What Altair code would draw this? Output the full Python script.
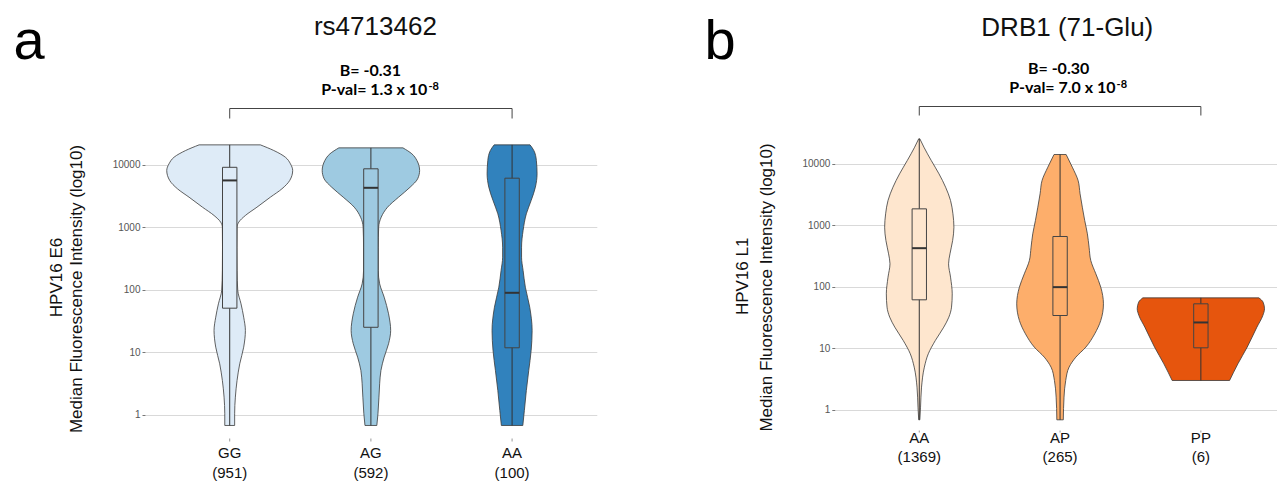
import altair as alt
import pandas as pd

# ---------------- Panel a : rs4713462 / HPV16 E6 ----------------
A_GROUPS = ["GG", "AG", "AA"]
A_COUNTS = ["(951)", "(592)", "(100)"]
A_COLORS = ["#deebf7", "#9ecae1", "#3182bd"]
A_TITLE = "rs4713462"
A_LETTER = "a"
A_YTITLE = ["HPV16 E6", "Median Fluorescence Intensity (log10)"]
A_BETA = "B= -0.31"
A_PVAL = "P-val= 1.3 x 10"
A_PEXP = "-8"

# violin outlines: log10(MFI) and half-width (in category units)
A_GG_LOG = [4.319, 4.229, 4.122, 4.016, 3.909, 3.749, 3.616, 3.482, 3.322, 3.189, 3.082, 3.002,
            2.682, 2.309, 1.989, 1.776, 1.562, 1.349, 1.082, 0.816, 0.549, 0.282, 0.016, -0.171]
A_GG_HW = [0.217, 0.312, 0.394, 0.430, 0.446, 0.425, 0.370, 0.288, 0.193, 0.111, 0.064, 0.052,
           0.051, 0.052, 0.057, 0.080, 0.099, 0.111, 0.099, 0.071, 0.052, 0.040, 0.035, 0.035]
A_AG_LOG = [4.271, 4.176, 4.069, 3.909, 3.775, 3.642, 3.482, 3.322, 3.162, 3.002, 2.682, 2.309,
            2.096, 1.882, 1.616, 1.349, 1.136, 0.922, 0.709, 0.496, 0.282, 0.016, -0.171]
A_AG_HW = [0.227, 0.290, 0.326, 0.345, 0.331, 0.278, 0.196, 0.118, 0.073, 0.055, 0.052, 0.052,
           0.062, 0.094, 0.125, 0.140, 0.125, 0.094, 0.071, 0.062, 0.057, 0.050, 0.042]
A_AA_LOG = [4.319, 4.229, 4.069, 3.855, 3.642, 3.429, 3.216, 2.949, 2.682, 2.522, 2.309, 2.042,
            1.722, 1.349, 1.029, 0.709, 0.389, 0.069, -0.171]
A_AA_HW = [0.127, 0.154, 0.172, 0.177, 0.165, 0.135, 0.101, 0.078, 0.067, 0.067, 0.078, 0.094,
           0.125, 0.142, 0.135, 0.118, 0.101, 0.087, 0.076]
# box plot statistics (log10 MFI)
A_Q1 = [1.706, 1.400, 1.072]
A_MED = [3.750, 3.632, 1.952]
A_Q3 = [3.960, 3.936, 3.786]
A_MIN = [-0.171, -0.171, -0.171]
A_MAX = [4.319, 4.271, 4.319]
A_BRACKET = [1, 3]

# ---------------- Panel b : DRB1 (71-Glu) / HPV16 L1 ----------------
B_GROUPS = ["AA", "AP", "PP"]
B_COUNTS = ["(1369)", "(265)", "(6)"]
B_COLORS = ["#fee6ce", "#fdae6b", "#e6550d"]
B_TITLE = "DRB1 (71-Glu)"
B_LETTER = "b"
B_YTITLE = ["HPV16 L1", "Median Fluorescence Intensity (log10)"]
B_BETA = "B= -0.30"
B_PVAL = "P-val= 7.0 x 10"
B_PEXP = "-8"

B_AA_LOG = [4.406, 4.270, 4.054, 3.837, 3.620, 3.404, 3.187, 2.970, 2.754, 2.537, 2.375, 2.158,
            1.887, 1.671, 1.508, 1.346, 1.129, 0.913, 0.696, 0.371, 0.046, -0.160]
B_AA_HW = [0.004, 0.033, 0.085, 0.140, 0.187, 0.222, 0.239, 0.246, 0.237, 0.218, 0.208, 0.222,
           0.234, 0.229, 0.210, 0.174, 0.114, 0.064, 0.036, 0.016, 0.009, 0.004]
B_AP_LOG = [4.151, 3.945, 3.729, 3.512, 3.295, 3.079, 2.862, 2.646, 2.429, 2.212, 1.996, 1.725,
            1.454, 1.237, 1.021, 0.858, 0.696, 0.479, 0.208, -0.160]
B_AP_HW = [0.043, 0.087, 0.128, 0.142, 0.158, 0.175, 0.194, 0.206, 0.218, 0.254, 0.289, 0.308,
           0.289, 0.246, 0.183, 0.112, 0.064, 0.040, 0.028, 0.023]
B_PP_LOG = [1.822, 1.752, 1.644, 1.535, 1.346, 1.021, 0.750, 0.479]
B_PP_HW = [0.412, 0.442, 0.452, 0.440, 0.398, 0.329, 0.263, 0.204]
B_Q1 = [1.790, 1.535, 1.010]
B_MED = [2.629, 1.996, 1.422]
B_Q3 = [3.268, 2.819, 1.725]
B_MIN = [-0.160, -0.160, 0.479]
B_MAX = [4.406, 4.151, 1.822]
B_BRACKET = [1, 3]

TICK_VALUES = [0, 1, 2, 3, 4]

BASE_FONT = "Liberation Sans"
ANNOT_FONT = "Lato"
BOX_HALF = 0.051


def one(text):
    return alt.Chart(pd.DataFrame({"t": [text]}))


def build_panel(pid, groups, counts, colors, logs, hws, q1, med, q3, wmin, wmax, bracket,
                title, letter, ytitle, beta, pval, pexp, L):
    keys = [f"{pid}_{g}" for g in groups]
    rows = []
    for i, k in enumerate(keys):
        for lv, hw in zip(logs[i], hws[i]):
            rows.append({"key": k, "cat": i + 1, "logv": lv, "hw": hw})
    vdf = pd.DataFrame(rows)
    bdf = pd.DataFrame({"key": keys, "group": groups, "count": counts, "cat": [1, 2, 3],
                        "q1": q1, "med": med, "q3": q3, "lo": wmin, "hi": wmax})

    xs = alt.Scale(domain=L["xdom"], nice=False, zero=False)
    ys = alt.Scale(domain=L["ydom"], nice=False, zero=False)
    fill = alt.Fill("key:N", scale=alt.Scale(domain=keys, range=colors), legend=None)
    yaxis = alt.Axis(values=TICK_VALUES, labelExpr="format(pow(10, datum.value), 'd')",
                     title=None, grid=True, gridColor="#d9d9d9", gridWidth=1, domain=False,
                     ticks=True, tickSize=3, tickColor="#777", labelColor="#555",
                     labelFontSize=10, labelPadding=2, labelFont=BASE_FONT)

    violin = alt.Chart(vdf).transform_calculate(
        xl="datum.cat - datum.hw", xr="datum.cat + datum.hw"
    ).mark_area(orient="horizontal", interpolate="monotone", stroke="#3a3a3a",
                strokeWidth=0.8).encode(
        y=alt.Y("logv:Q", scale=ys, axis=yaxis),
        x=alt.X("xl:Q", scale=xs, axis=None, stack=False),
        x2="xr:Q",
        fill=fill,
    )

    bbase = alt.Chart(bdf).transform_calculate(
        bl=f"datum.cat - {BOX_HALF}", br=f"datum.cat + {BOX_HALF}")
    whisker = bbase.mark_rule(color="#333", strokeWidth=1).encode(
        x="cat:Q", y="lo:Q", y2="hi:Q")
    box = bbase.mark_rect(stroke="#444", strokeWidth=1).encode(
        x="bl:Q", x2="br:Q", y="q1:Q", y2="q3:Q", fill=fill)
    median = bbase.mark_rule(color="#333", strokeWidth=2).encode(
        x="bl:Q", x2="br:Q", y="med:Q")

    ticks = bbase.mark_rule(color="#999", strokeWidth=1).encode(
        x="cat:Q", y=alt.value(L["tick_y"][0]), y2=alt.value(L["tick_y"][1]))
    lab = bbase.mark_text(font=BASE_FONT, fontSize=15, color="#111", baseline="alphabetic").encode(
        x="cat:Q", y=alt.value(L["lab_y"]), text="group:N")
    cnt = bbase.mark_text(font=BASE_FONT, fontSize=15, color="#111", baseline="alphabetic").encode(
        x="cat:Q", y=alt.value(L["cnt_y"]), text="count:N")

    brdf = pd.DataFrame({"c1": [bracket[0]], "c2": [bracket[1]]})
    br_h = alt.Chart(brdf).mark_rule(color="#444", strokeWidth=1).encode(
        x="c1:Q", x2="c2:Q", y=alt.value(L["br_y"]))
    br_l = alt.Chart(brdf).mark_rule(color="#444", strokeWidth=1).encode(
        x="c1:Q", y=alt.value(L["br_y"]), y2=alt.value(L["br_y2"]))
    br_r = alt.Chart(brdf).mark_rule(color="#444", strokeWidth=1).encode(
        x="c2:Q", y=alt.value(L["br_y"]), y2=alt.value(L["br_y2"]))

    t_title = one(title).mark_text(font=BASE_FONT, fontSize=26, color="#111", align="center",
                                   baseline="alphabetic").encode(
        x=alt.value(L["title"][0]), y=alt.value(L["title"][1]), text="t:N")
    t_letter = one(letter).mark_text(font=BASE_FONT, fontSize=56, color="#000", align="left",
                                     baseline="alphabetic").encode(
        x=alt.value(L["letter"][0]), y=alt.value(L["letter"][1]), text="t:N")
    t_beta = one(beta).mark_text(font=ANNOT_FONT, fontSize=16, fontWeight="bold", color="#000",
                                 align="center", baseline="alphabetic").encode(
        x=alt.value(L["beta"][0]), y=alt.value(L["beta"][1]), text="t:N")
    t_pval = one(pval).mark_text(font=ANNOT_FONT, fontSize=16, fontWeight="bold", color="#000",
                                 align="right", baseline="alphabetic").encode(
        x=alt.value(L["pval"][0]), y=alt.value(L["pval"][1]), text="t:N")
    t_pexp = one(pexp).mark_text(font=ANNOT_FONT, fontSize=11, fontWeight="bold", color="#000",
                                 align="left", baseline="alphabetic").encode(
        x=alt.value(L["pexp"][0]), y=alt.value(L["pexp"][1]), text="t:N")
    t_y1 = one(ytitle[0]).mark_text(font=BASE_FONT, fontSize=17, color="#111", angle=270,
                                    align="center", baseline="alphabetic").encode(
        x=alt.value(L["yt1"][0]), y=alt.value(L["yt1"][1]), text="t:N")
    t_y2 = one(ytitle[1]).mark_text(font=BASE_FONT, fontSize=17, color="#111", angle=270,
                                    align="center", baseline="alphabetic").encode(
        x=alt.value(L["yt2"][0]), y=alt.value(L["yt2"][1]), text="t:N")

    layers = [violin, whisker, box, median, ticks, lab, cnt, br_h, br_l, br_r,
              t_title, t_letter, t_beta, t_pval, t_pexp, t_y1, t_y2]
    if "anchor" in L:
        anchor = one("").mark_rule(opacity=0, strokeWidth=0).encode(
            x=alt.value(L["anchor"][0]), x2=alt.value(L["anchor"][0]),
            y=alt.value(L["anchor"][1]), y2=alt.value(L["anchor"][1]))
        layers.append(anchor)
    return alt.layer(*layers).properties(width=L["w"], height=L["h"])


LA = dict(xdom=[0.4, 3.6], ydom=[-0.301, 4.477], w=451.8, h=298.6,
          tick_y=(303.5, 306.5), lab_y=322.5, cnt_y=342.5,
          br_y=-26.5, br_y2=-16.5,
          title=(230.4, -100.5), letter=(-131.6, -76.5),
          beta=(225.4, -59.0), pval=(282.4, -40.0), pexp=(283.4, -45.0),
          yt1=(-83.0, 142.5), yt2=(-63.0, 154.0),
          anchor=(-136.6, -126.5))
LB = dict(xdom=[0.4, 3.54], ydom=[-0.301, 4.468], w=442.1, h=293.5,
          tick_y=(295.5, 297.5), lab_y=307.5, cnt_y=327.2,
          br_y=-28.5, br_y2=-19.5,
          title=(232.5, -99.5), letter=(-130.2, -76.5),
          beta=(223.8, -61.0), pval=(280.8, -42.5), pexp=(281.8, -47.5),
          yt1=(-87.2, 141.3), yt2=(-62.9, 152.5))

pa = build_panel("a", A_GROUPS, A_COUNTS, A_COLORS,
                 [A_GG_LOG, A_AG_LOG, A_AA_LOG], [A_GG_HW, A_AG_HW, A_AA_HW],
                 A_Q1, A_MED, A_Q3, A_MIN, A_MAX, A_BRACKET,
                 A_TITLE, A_LETTER, A_YTITLE, A_BETA, A_PVAL, A_PEXP, LA)
pb = build_panel("b", B_GROUPS, B_COUNTS, B_COLORS,
                 [B_AA_LOG, B_AP_LOG, B_PP_LOG], [B_AA_HW, B_AP_HW, B_PP_HW],
                 B_Q1, B_MED, B_Q3, B_MIN, B_MAX, B_BRACKET,
                 B_TITLE, B_LETTER, B_YTITLE, B_BETA, B_PVAL, B_PEXP, LB)

chart = alt.hconcat(pa, pb, spacing=237.8, bounds="flush").resolve_scale(
    fill="independent", x="independent", y="independent"
).properties(padding=0, background="white").configure_view(stroke=None)

chart.save("out.html", embed_options={"renderer": "svg", "actions": False})
